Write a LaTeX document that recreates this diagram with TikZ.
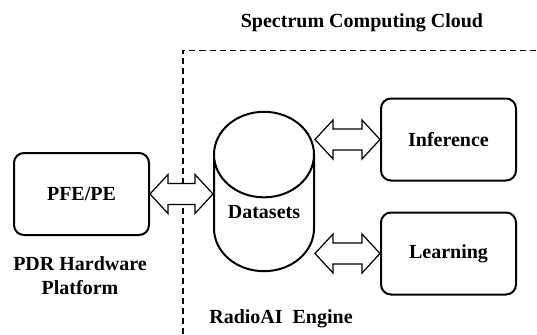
\documentclass[tikz,border=0pt]{standalone}
\usepackage{fontspec}
\setmainfont{Liberation Serif}
\usepackage{tikz}
\usetikzlibrary{positioning,calc,shapes.geometric}

\begin{document}
\begin{tikzpicture}[
  x=0.5pt, y=-0.5pt,
  blk/.style={rounded corners=5pt, draw, line width=1pt, font=\bfseries, align=center, minimum width=67.5pt, minimum height=41pt},
  lbl/.style={font=\bfseries, align=center},
  store/.style={cylinder, shape border rotate=90, aspect=1, draw, line width=1pt, font=\bfseries, minimum width=50pt, minimum height=77.5pt, text depth=12.5pt},
  fat/.style={draw, line width=0.6pt, fill=white, line join=miter},
  cloud/.style={dashed, dash pattern=on 3pt off 2pt, line width=0.6pt},
]
\useasboundingbox (0,0) rectangle (537,334);

% ============ cloud frame ============
\node[lbl] (ttl) at (362,23) {Spectrum Computing Cloud};
\coordinate (cbot) at (183,334);
\coordinate (cright) at (537,50.5);
\draw[cloud] (cbot) |- (cright);

% ============ hardware ============
\node[blk] (pfe) at (81.5,194) {PFE/PE};
\node[lbl] (pdr) at (80,276) {PDR Hardware\\Platform};

% ============ RadioAI engine ============
\node[store, anchor=shape center] (db) at (264,191.5) {Datasets};
\node[blk] (inf) at (448.5,139.5) {Inference};
\node[blk] (lrn) at (448.5,253.5) {Learning};
\node[lbl] (eng) at (281,319) {RadioAI\ \ Engine};

% double arrows
\draw[fat] (pfe.east) -- ++(18,-19.5) -- ++(0,9) -- ($(db.west |- pfe.east)+(-18,-10.5)$) -- ++(0,-9)
  -- (db.west |- pfe.east) -- ++(-18,19.5) -- ++(0,-9) -- ($(pfe.east)+(18,10.5)$) -- ++(0,9) -- cycle;
\draw[fat] (db.east |- inf.west) -- ++(18,-19.5) -- ++(0,9) -- ($(inf.west)+(-18,-10.5)$) -- ++(0,-9)
  -- (inf.west) -- ++(-18,19.5) -- ++(0,-9) -- ($(db.east |- inf.west)+(18,10.5)$) -- ++(0,9) -- cycle;
\draw[fat] (db.east |- lrn.west) -- ++(18,-19.5) -- ++(0,9) -- ($(lrn.west)+(-18,-10.5)$) -- ++(0,-9)
  -- (lrn.west) -- ++(-18,19.5) -- ++(0,-9) -- ($(db.east |- lrn.west)+(18,10.5)$) -- ++(0,9) -- cycle;
\end{tikzpicture}
\end{document}
